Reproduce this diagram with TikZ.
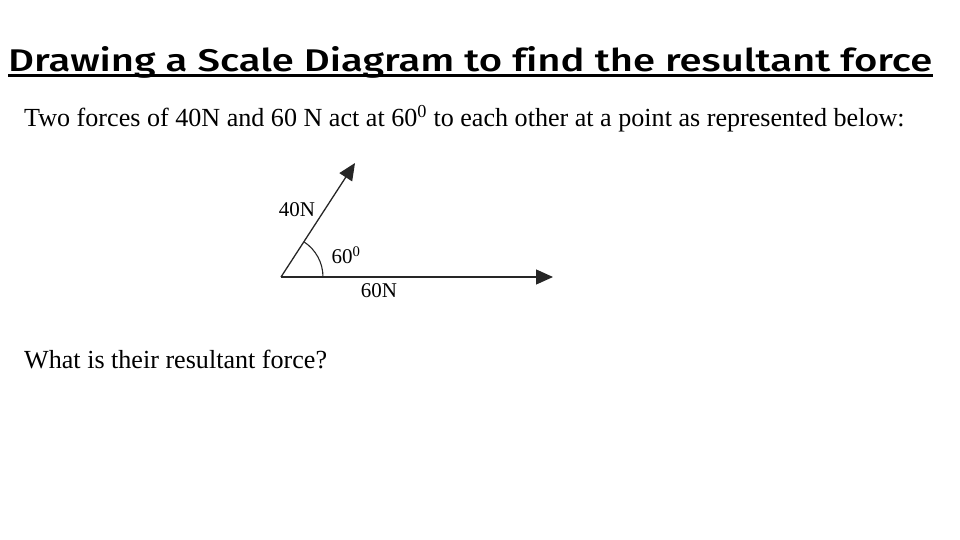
\documentclass[tikz,border=0pt]{standalone}
\usepackage{fontspec}
\usepackage{graphicx}
\setmainfont{Liberation Serif}
\newfontfamily\titlefont[Ligatures=NoCommon,UprightFont=* Medium]{Fira Sans}
\usetikzlibrary{arrows.meta}

\begin{document}
\begin{tikzpicture}[x=1pt,y=-1pt]
    \tikzstyle{force}=[draw=black!85,line width=1.3pt,-{Triangle[length=17pt,width=15pt]}]
    \tikzstyle{annot}=[inner sep=0pt,font=\fontsize{21}{23}\selectfont]
    \tikzstyle{text line}=[anchor=base west,inner sep=0pt,font=\fontsize{26.1}{30}\selectfont]
    \useasboundingbox (0,0) rectangle (960,540);

    % Heading with its underline
    \node[anchor=base west,inner sep=0pt] (title) at (8,72)
        {\resizebox{924pt}{25pt}{\titlefont Drawing a Scale Diagram to find the resultant force}};
    \draw[line width=3pt] ([yshift=-4pt]title.base west) -- ([yshift=-4pt]title.base east);

    % The question text
    \node[text line] (task) at (24,127)
        {Two forces of 40N and 60 N act at 60\textsuperscript{0} to each other at a point as represented below:};
    \node[text line] (ask) at (24,368) {What is their resultant force?};

    % Draw the two forces
    \coordinate (O) at (281,277);
    \coordinate (F40) at (355,163);
    \coordinate (F60) at (553,277);
    \draw[force] (O) -- (F40);
    \draw[force] (O) -- (F60);
    \draw[draw=black!85,line width=1.1pt] (O) ++(42,0) arc[start angle=0,end angle=-57,radius=42];

    \node[annot] (l40) at (297,210) {40N};
    \node[annot] (lang) at (346,255) {60\textsuperscript{0}};
    \node[annot] (l60) at (379,291) {60N};

\end{tikzpicture}
\end{document}
